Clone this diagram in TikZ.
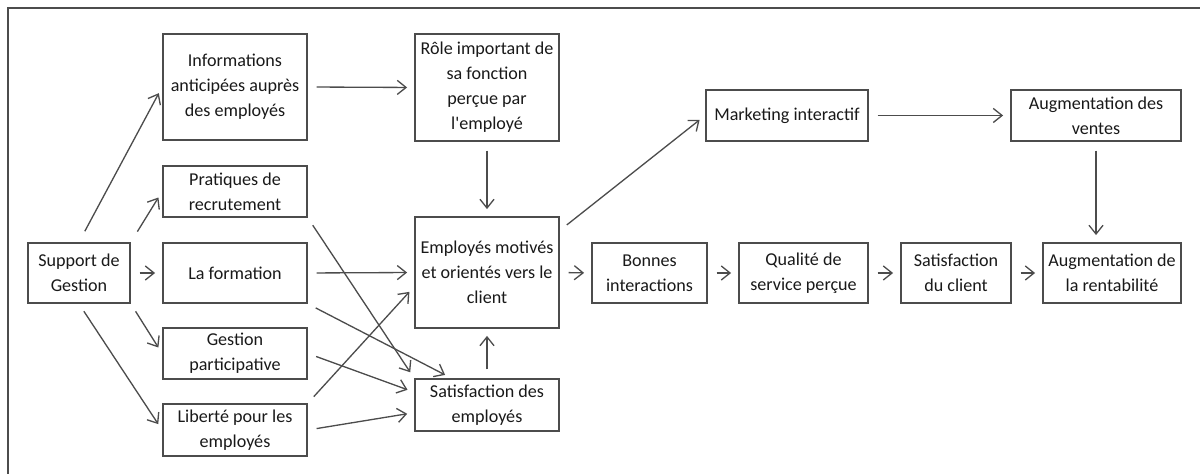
\documentclass[tikz,border=0pt]{standalone}
\usepackage{fontspec}
\setmainfont{Carlito}
\usetikzlibrary{arrows.meta}
\definecolor{linegray}{gray}{0.3}
\definecolor{textgray}{gray}{0.1}

\begin{document}
\begin{tikzpicture}[
    box/.style={draw=linegray, line width=1pt, rectangle, align=center, inner sep=1pt,
        minimum width=2.88cm, text=textgray, font=\fontsize{10.3}{14.2}\selectfont},
    fl/.style={-{Straight Barb[length=5pt,width=8pt]}, draw=linegray, line width=0.75pt,
        shorten >=4pt, shorten <=5pt}
]
    \useasboundingbox (0,0) rectangle (24,9.48);
    % frame
    \draw[linegray, line width=1pt] (0.16,0) -- (0.16,9.32) -- (24,9.32);

    \node[box, minimum width=2.04cm, minimum height=1.2cm] (support) at (1.58,4.02) {Support de\\Gestion};
    \node[box, minimum height=2.12cm] (infos) at (4.70,7.74) {Informations\\anticipées auprès\\des employés};
    \node[box, minimum height=1.02cm] (recrut) at (4.70,5.65) {Pratiques de\\recrutement};
    \node[box, minimum height=1.2cm] (formation) at (4.70,4.02) {La formation};
    \node[box, minimum height=1.02cm] (gestion) at (4.70,2.41) {Gestion\\participative};
    \node[box, minimum height=1.04cm] (liberte) at (4.70,0.88) {Liberté pour les\\employés};
    \node[box, minimum height=2.14cm] (role) at (9.74,7.73) {Rôle important de\\sa fonction\\perçue par\\l\textquotesingle employé};
    \node[box, minimum height=2.22cm] (motives) at (9.74,4.03) {Employés motivés\\et orientés vers le\\client};
    \node[box, minimum height=1.04cm] (satemp) at (9.74,1.38) {Satisfaction des\\employés};
    \node[box, minimum width=2.3cm, minimum height=1.2cm] (interact) at (12.99,4.02) {Bonnes\\interactions};
    \node[box, minimum width=2.58cm, minimum height=1.2cm] (qualite) at (16.07,4.02) {Qualité de\\service perçue};
    \node[box, minimum width=2.2cm, minimum height=1.2cm] (satcli) at (19.12,4.02) {Satisfaction\\du client};
    \node[box, minimum width=2.76cm, minimum height=1.2cm] (rentab) at (22.24,4.02) {Augmentation de\\la rentabilité};
    \node[box, minimum width=3.24cm, minimum height=1.02cm] (marketing) at (15.74,7.17) {Marketing interactif};
    \node[box, minimum width=3.4cm, minimum height=1.02cm] (ventes) at (21.92,7.17) {Augmentation des\\ventes};

    \draw[fl, shorten <=7pt] (support.north) -- (infos.west);
    \draw[fl, shorten <=7pt] (support.north east) -- (recrut.west);
    \draw[fl] (support.east) -- (formation.west);
    \draw[fl] (support.south east) -- (gestion.west);
    \draw[fl] (support.south) -- (liberte.west);
    \draw[fl] (infos.east) -- (role.west);
    \draw[fl] (role.south) -- (motives.north);
    \draw[fl] (recrut.south east) -- (satemp.north west);
    \draw[fl] (formation.east) -- (motives.west);
    \draw[fl] (formation.south east) -- (satemp.143);
    \draw[fl] (gestion.east) -- (satemp.170);
    \draw[fl] (liberte.north east) -- (motives.191);
    \draw[fl] (liberte.east) -- (satemp.186);
    \draw[fl] (satemp.north) -- (motives.south);
    \draw[fl] (motives.30) -- (marketing.west);
    \draw[fl] (motives.east) -- (interact.west);
    \draw[fl] (interact.east) -- (qualite.west);
    \draw[fl] (qualite.east) -- (satcli.west);
    \draw[fl] (satcli.east) -- (rentab.west);
    \draw[fl] (marketing.east) -- (ventes.west);
    \draw[fl] (ventes.south) -- (ventes.south |- rentab.north);
\end{tikzpicture}
\end{document}
